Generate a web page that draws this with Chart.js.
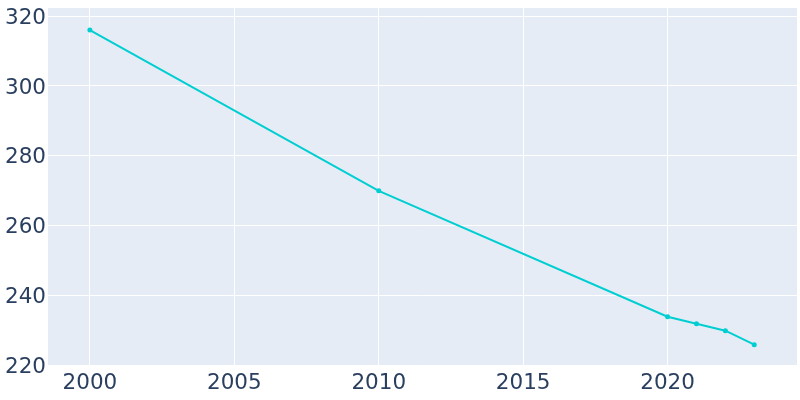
<!DOCTYPE html>
<html lang="en">
<head>
  <meta charset="UTF-8" />
  <title>Population</title>
  <script src="https://cdn.jsdelivr.net/npm/chart.js"></script>
  <style>
    html, body { margin: 0; padding: 0; background: #fff; overflow: hidden; }
    #chart { display: block; }
  </style>
</head>
<body>
  <canvas id="chart" width="800" height="400"></canvas>
  <script>
    // data
    const years = [2000, 2010, 2020, 2021, 2022, 2023];
    const population = [316, 270, 234, 232, 230, 226];
    const xTicks = [2000, 2005, 2010, 2015, 2020];
    const yTicks = [220, 240, 260, 280, 300, 320];

    const plotBg = {
      id: 'plotBg',
      beforeDraw(chart) {
        const { ctx, chartArea: a } = chart;
        ctx.save();
        ctx.fillStyle = '#e5ecf6';
        ctx.fillRect(a.left, a.top, a.right - a.left, a.bottom - a.top);
        ctx.restore();
      }
    };

    const tickFont = { family: 'DejaVu Sans', size: 21.5 };

    new Chart(document.getElementById('chart'), {
      type: 'line',
      data: {
        datasets: [{
          data: years.map((y, i) => ({ x: y, y: population[i] })),
          borderColor: '#00ced1',
          backgroundColor: '#00ced1',
          borderWidth: 2,
          pointRadius: 2.5,
          pointBorderWidth: 0,
          pointHoverRadius: 3,
          tension: 0
        }]
      },
      options: {
        responsive: false,
        animation: false,
        devicePixelRatio: 1,
        layout: { padding: { top: 8, right: 3, left: 0, bottom: 0 } },
        plugins: { legend: { display: false }, tooltip: { enabled: false } },
        scales: {
          x: {
            type: 'linear',
            min: 1998.55,
            max: 2024.48,
            afterBuildTicks: s => { s.ticks = xTicks.map(v => ({ value: v })); },
            afterFit: s => { s.height = 34; s.paddingLeft = 0; s.paddingRight = 0; },
            grid: { color: '#ffffff', lineWidth: 1, drawTicks: false },
            border: { display: false },
            ticks: { color: '#2a3f5f', font: tickFont, padding: 5, maxRotation: 0,
                     autoSkip: false, callback: v => String(v) }
          },
          y: {
            min: 219.9,
            max: 322.3,
            afterBuildTicks: s => { s.ticks = yTicks.map(v => ({ value: v })); },
            afterFit: s => { s.width = 48; s.paddingTop = 0; s.paddingBottom = 0; },
            grid: { color: '#ffffff', lineWidth: 1, drawTicks: false },
            border: { display: false },
            ticks: { color: '#2a3f5f', font: tickFont, padding: 2, labelOffset: 2,
                     autoSkip: false, callback: v => String(v) }
          }
        }
      },
      plugins: [plotBg]
    });
  </script>
</body>
</html>
